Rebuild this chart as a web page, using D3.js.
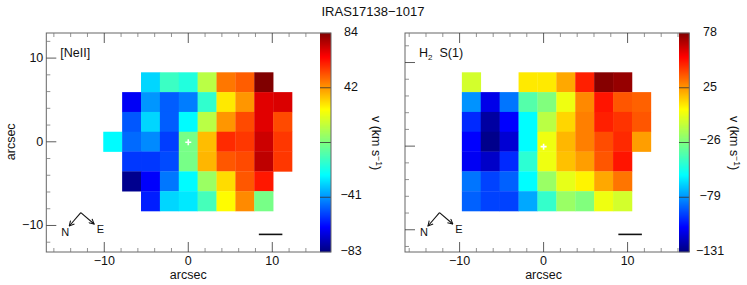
<!DOCTYPE html>
<html><head><meta charset="utf-8">
<style>html,body{margin:0;padding:0;background:#fff}svg{display:block}text{font-family:"Liberation Sans",sans-serif;fill:#111}</style>
<script src="https://cdn.jsdelivr.net/npm/d3@7"></script></head><body>
<script>
const title = "IRAS17138\u22121017";
const xTickLabels = [-10, 0, 10];
const yTickLabels = [-10, 0, 10];
const neiiRange = [-83, 84];
const neiiTicks = [84, 42, -41, -83];
const h2Range = [-131, 78];
const h2Ticks = [78, 25, -26, -79, -131];
const _ = null;
const neiiValues = [
 [_,_,-31,-13,-18,12,47,51,84,_],
 [_,-66,-41,-50,-45,-15,29,42,70,71],
 [_,-51,-31,-50,-25,12,42,54,70,54],
 [-25,-48,-43,-55,-1,36,59,57,73,57],
 [_,-56,-56,-53,-1,37,52,54,75,57],
 [_,-81,-65,-46,-25,6,31,52,62,_],
 [_,_,-60,-31,-28,-11,26,44,-1,_]
];
const h2Values = [
 [-6,_,_,9,9,22,49,77,74,_],
 [-79,-112,-85,-37,-26,1,28,51,38,36],
 [-100,-125,-108,-58,-12,13,30,49,45,38],
 [-108,-129,-116,-58,1,19,30,40,47,24],
 [-110,-118,-100,-47,1,17,24,38,51,_],
 [-85,-95,-89,-58,-20,-1,7,22,32,_],
 [-89,-95,-95,-75,-45,-20,-26,1,-6,_]
];
const jetStops = [[0,"#000080"],[0.11,"#0000ff"],[0.35,"#00ffff"],[0.5,"#7fff7f"],[0.65,"#ffff00"],[0.89,"#ff0000"],[1,"#800000"]];
const jet = d3.scaleLinear().domain(jetStops.map(d=>d[0])).range(jetStops.map(d=>d[1])).interpolate(d3.interpolateRgb).clamp(true);

const W=747,H=285;
const svg=d3.select("body").append("svg").attr("width",W).attr("height",H);
svg.append("defs").append("marker").attr("id","ah").attr("viewBox","0 0 8 8").attr("refX",7).attr("refY",4)
 .attr("markerWidth",6.5).attr("markerHeight",6.5).attr("markerUnits","userSpaceOnUse").attr("orient","auto")
 .append("path").attr("d","M1,0.8L7,4L1,7.2").attr("fill","none").attr("stroke","#111").attr("stroke-width",1.3);
svg.append("text").attr("x",373).attr("y",16).attr("text-anchor","middle").attr("font-size",13).text(title);

function panel(o){
 const g=svg.append("g");
 const x=d3.scaleLinear().domain(o.xDom).range([o.l,o.bl]);
 const y=d3.scaleLinear().domain(o.yDom).range([33,252]);
 const cols=d3.scaleBand().domain(d3.range(10)).range([x(o.cellX[0]),x(o.cellX[1])]);
 const rows=d3.scaleBand().domain(d3.range(7)).range([72.3,211]);
 const vt=d3.scaleLinear().domain(o.range).range([0,1]);
 o.values.forEach((r,ri)=>{
  g.append("g").selectAll("rect").data(r.map((v,c)=>({v,c})).filter(d=>d.v!==null)).join("rect")
   .attr("x",d=>cols(d.c)).attr("y",rows(ri)).attr("width",cols.bandwidth()+.3).attr("height",rows.bandwidth()+.3)
   .attr("fill",d=>jet(vt(d.v)));
 });
 const cx=x(0),cy=y(0);
 g.append("path").attr("d",`M${cx-3},${cy+.5}H${cx+3}M${cx},${cy-2.5}V${cy+3.5}`).attr("stroke","#fff").attr("stroke-width",1.6);
 const barY=d3.scaleLinear().domain([0,1]).range([252,33]);
 g.append("g").selectAll("rect").data(d3.range(0,1,1/219)).join("rect")
  .attr("x",o.bl).attr("width",o.br-o.bl).attr("y",d=>barY(d)-1.2).attr("height",1.4).attr("fill",d=>jet(d));
 g.append("g").selectAll("line").data([.25,.5,.75]).join("line")
  .attr("x1",o.bl).attr("x2",o.br).attr("y1",d=>barY(d)).attr("y2",d=>barY(d)).attr("stroke","#333").attr("stroke-width",.8);
 const st="#666";
 g.append("rect").attr("x",o.l).attr("y",33).attr("width",o.br-o.l).attr("height",219).attr("fill","none").attr("stroke",st).attr("stroke-width",1);
 const xt=d3.range(-16,17,2).filter(t=>x(t)>o.l+1&&x(t)<o.bl-1);
 const yt=d3.range(-12,14,2).filter(t=>y(t)>34&&y(t)<251);
 const len=t=>t%10===0?10:4;
 g.append("g").selectAll("path").data(xt).join("path").attr("fill","none").attr("stroke",t=>t%10===0?"#333":"#777").attr("stroke-width",.8)
  .attr("d",t=>`M${x(t)},33v${len(t)}M${x(t)},252v${-len(t)}`);
 g.append("g").selectAll("path").data(yt).join("path").attr("fill","none").attr("stroke",t=>t%10===0?"#333":"#777").attr("stroke-width",.8)
  .attr("d",t=>`M${o.l},${y(t)}h${len(t)}`);
 g.append("g").selectAll("text").data(xTickLabels).join("text").attr("x",t=>x(t)).attr("y",264.5)
  .attr("text-anchor","middle").attr("font-size",12.5).text(t=>String(t).replace("-","\u2212"));
 g.append("text").attr("x",x(0)).attr("y",278.5).attr("text-anchor","middle").attr("font-size",12.5).text("arcsec");
 if(o.yLabels){
  g.append("g").selectAll("text").data(yTickLabels).join("text").attr("x",o.l-3).attr("y",t=>y(t)+4)
   .attr("text-anchor","end").attr("font-size",12.5).text(t=>String(t).replace("-","\u2212"));
  g.append("text").attr("transform",`translate(15,${y(0)}) rotate(-90)`).attr("text-anchor","middle").attr("font-size",12.5).text("arcsec");
 }
 g.append("g").selectAll("text").data(o.ticks).join("text").attr("x",o.tx)
  .attr("y",(t,i)=>(i===0?35.5:i===o.ticks.length-1?254.5:barY(vt(t))+2.5))
  .attr("text-anchor","middle").attr("font-size",12.5).text(t=>String(t).replace("-","\u2212"));
 g.append("text").attr("transform",`translate(${o.vx},143) rotate(90)`).attr("text-anchor","middle").attr("font-size",12.5)
  .html(`v (km  s<tspan dy="-4" font-size="8.5">\u22121</tspan><tspan dy="4">)</tspan>`);
 g.append("text").attr("x",o.l+14).attr("y",56.5).attr("font-size",12.5).html(o.labelHtml);
 const ap=[o.l+34.5,212.7];
 g.append("line").attr("x1",ap[0]).attr("y1",ap[1]).attr("x2",ap[0]-11.5).attr("y2",ap[1]+13.3).attr("stroke","#111").attr("stroke-width",1.1).attr("marker-end","url(#ah)");
 g.append("line").attr("x1",ap[0]).attr("y1",ap[1]).attr("x2",ap[0]+13.3).attr("y2",ap[1]+11.3).attr("stroke","#111").attr("stroke-width",1.1).attr("marker-end","url(#ah)");
 g.append("text").attr("x",ap[0]-15.5).attr("y",236).attr("text-anchor","middle").attr("font-size",11).text("N");
 g.append("text").attr("x",ap[0]+19.5).attr("y",232.5).attr("text-anchor","middle").attr("font-size",11).text("E");
 g.append("line").attr("x1",x(o.sb[0])).attr("x2",x(o.sb[1])).attr("y1",234.4).attr("y2",234.4).attr("stroke","#111").attr("stroke-width",1.6);
}
panel({l:46.3,bl:320,br:331,xDom:[-16.9,15.68],yDom:[13.0,-13.17],cellX:[-10.12,12.35],values:neiiValues,range:neiiRange,ticks:neiiTicks,
 tx:351,vx:372,yLabels:true,labelHtml:"[NeII]",sb:[8.4,11.2]});
panel({l:405,bl:679,br:689.3,xDom:[-16.5,16.12],yDom:[13.53,-12.66],cellX:[-9.73,12.77],values:h2Values,range:h2Range,ticks:h2Ticks,
 tx:710,vx:730,yLabels:false,labelHtml:`H<tspan dy="3" font-size="8">2</tspan><tspan dy="-3" xml:space="preserve">  S(1)</tspan>`,sb:[8.9,11.7]});
</script></body></html>
